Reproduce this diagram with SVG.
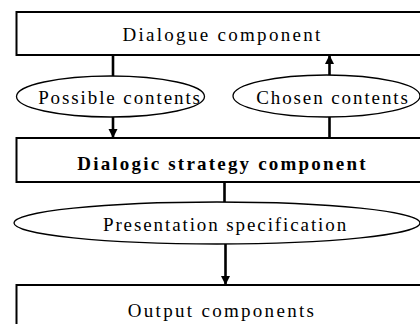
<svg xmlns="http://www.w3.org/2000/svg" width="420" height="324" viewBox="0 0 420 324">
  <style>
    .box { fill: #fff; stroke: #000; stroke-width: 2; }
    .oval { fill: #fff; stroke: #000; stroke-width: 1.3; }
    text { font-family: 'Liberation Serif', 'DejaVu Serif', serif; font-size: 19px; fill: #000; text-anchor: middle; letter-spacing: 2.3px; }
    .bold { font-weight: bold; letter-spacing: 2.2px; }
    .soft { letter-spacing: 1.9px; }
    .link { stroke: #000; stroke-width: 2.6; fill: none; }
  </style>
  <defs>
    <marker id="head" viewBox="0 0 10 10" refX="10" refY="5" markerUnits="userSpaceOnUse" markerWidth="9" markerHeight="10" orient="auto">
      <path d="M0,0 L10,5 L0,10 Z" fill="#000"/>
    </marker>
  </defs>

  <rect width="420" height="324" fill="#fff"/>

  <!-- connectors -->
  <g id="connectors">
    <line class="link" x1="113" y1="55" x2="113" y2="76"/>
    <line class="link" x1="113" y1="117" x2="113" y2="138" marker-end="url(#head)"/>
    <line class="link" x1="329.5" y1="138" x2="329.5" y2="117"/>
    <line class="link" x1="329.5" y1="75" x2="329.5" y2="55" marker-end="url(#head)"/>
    <line class="link" x1="224.5" y1="182" x2="224.5" y2="202"/>
    <line class="link" x1="225.5" y1="244" x2="225.5" y2="285" marker-end="url(#head)"/>
  </g>

  <g id="dialogue">
    <rect class="box" x="16.5" y="12" width="420" height="43"/>
    <text x="222.5" y="40.5" font-family="Liberation Serif, serif">Dialogue component</text>
  </g>

  <g id="possible">
    <ellipse class="oval" cx="110.5" cy="96.5" rx="94" ry="20.5"/>
    <text class="soft" x="120" y="103.5" font-family="Liberation Serif, serif">Possible contents</text>
  </g>

  <g id="chosen">
    <ellipse class="oval" cx="326.5" cy="96" rx="93.5" ry="21"/>
    <text class="soft" x="333" y="103.5" font-family="Liberation Serif, serif">Chosen contents</text>
  </g>

  <g id="strategy">
    <rect class="box" x="16.5" y="138" width="420" height="44"/>
    <text class="bold" x="222.5" y="170" font-family="Liberation Serif, serif">Dialogic strategy component</text>
  </g>

  <g id="presentation">
    <ellipse class="oval" cx="217" cy="223" rx="203" ry="21"/>
    <text class="soft" x="225.5" y="230.5" font-family="Liberation Serif, serif">Presentation specification</text>
  </g>

  <g id="output">
    <rect class="box" x="16.5" y="285" width="420" height="60"/>
    <text x="222" y="317" font-family="Liberation Serif, serif">Output components</text>
  </g>
</svg>
